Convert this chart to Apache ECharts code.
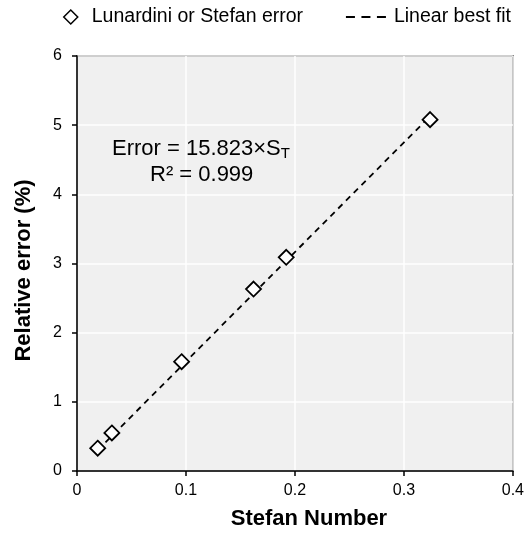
<!DOCTYPE html>
<html><head><meta charset="utf-8">
<script src="https://cdn.jsdelivr.net/npm/echarts@6/dist/echarts.min.js"></script>
<style>html,body{margin:0;padding:0;background:#fff}#c{width:527px;height:535px}</style>
</head><body><div id="c"></div>
<script>
const stefanNumbers = [0.019, 0.032, 0.096, 0.162, 0.192, 0.324];
const relativeErrors = [0.33, 0.55, 1.58, 2.63, 3.09, 5.08];
const fitX = [0.019, 0.324];
const fitY = [0.30, 5.13];
const xTicks = [0, 0.1, 0.2, 0.3, 0.4];
const yTicks = [0, 1, 2, 3, 4, 5, 6];

const FONT = '"Liberation Sans", Arial, sans-serif';
const chart = echarts.init(document.getElementById('c'));
chart.setOption({
  animation: false,
  textStyle: { fontFamily: FONT },
  legend: [
    { data: [{ name: 'Lunardini or Stefan error', icon: 'diamond' }], left: 58, top: 2,
      itemWidth: 14, itemHeight: 14, itemGap: 10,
      itemStyle: { color: '#fff', borderColor: '#000', borderWidth: 1.5 },
      textStyle: { fontFamily: FONT, fontSize: 19.5, color: '#000', padding: [0, 0, 0, 9] } },
    { data: [{ name: 'Linear best fit', icon: 'path://M0,0H9V2H0Z M15.5,0H24.5V2H15.5Z M31,0H40V2H31Z' }],
      right: 11, top: 2, itemWidth: 40, itemHeight: 2,
      itemStyle: { color: '#000', borderWidth: 0 },
      textStyle: { fontFamily: FONT, fontSize: 19.5, color: '#000', padding: [0, 0, 0, 3] } }
  ],
  grid: { left: 77, right: 14, top: 56, bottom: 61, show: true, backgroundColor: '#f0f0f0',
    borderColor: '#000', borderWidth: 1.5 },
  xAxis: {
    type: 'value', min: xTicks[0], max: xTicks[xTicks.length - 1], interval: 0.1,
    name: 'Stefan Number', nameLocation: 'middle', nameGap: 37,
    nameTextStyle: { fontFamily: FONT, fontSize: 22, fontWeight: 'bold', color: '#000', padding: [0, 0, 0, 28] },
    axisLine: { show: true, lineStyle: { color: '#000', width: 1.5 } },
    axisTick: { show: true, inside: false, length: 5, lineStyle: { color: '#000', width: 1.5 } },
    axisLabel: { fontFamily: FONT, fontSize: 16, color: '#000', margin: 12 },
    splitLine: { show: true, lineStyle: { color: '#fff', width: 1.5 } }
  },
  yAxis: {
    type: 'value', min: yTicks[0], max: yTicks[yTicks.length - 1], interval: 1,
    name: 'Relative error (%)', nameLocation: 'middle', nameGap: 42,
    nameTextStyle: { fontFamily: FONT, fontSize: 22, fontWeight: 'bold', color: '#000', padding: [0, 14, 0, 0] },
    axisLine: { show: true, lineStyle: { color: '#000', width: 1.5 } },
    axisTick: { show: true, inside: false, length: 5, lineStyle: { color: '#000', width: 1.5 } },
    axisLabel: { fontFamily: FONT, fontSize: 16, color: '#000', margin: 15 },
    splitLine: { show: true, lineStyle: { color: '#fff', width: 1.5 } }
  },
  series: [
    { name: 'Linear best fit', type: 'line', symbol: 'none', z: 2,
      data: fitX.map((x, i) => [x, fitY[i]]),
      lineStyle: { color: '#000', width: 1.8, type: [6, 5] }, itemStyle: { color: '#000' } },
    { name: 'Lunardini or Stefan error', type: 'scatter', symbol: 'diamond', symbolSize: [15, 15], z: 3,
      data: stefanNumbers.map((x, i) => [x, relativeErrors[i]]),
      itemStyle: { color: '#fff', borderColor: '#000', borderWidth: 1.8, opacity: 1 } }
  ],
  graphic: [
    { type: 'text', left: 112, top: 138, z: 10,
      style: { text: '{a|Error = 15.823×S}{s|T}', fill: '#000', font: '22px ' + FONT,
        rich: { a: { fontFamily: FONT, fontSize: 22, color: '#000' },
                s: { fontFamily: FONT, fontSize: 15, color: '#000', verticalAlign: 'bottom', padding: [10, 0, 0, 0] } } } },
    { type: 'text', left: 150, top: 164, z: 10,
      style: { text: 'R² = 0.999', fill: '#000', font: '22px ' + FONT } }
  ]
});
</script></body></html>
